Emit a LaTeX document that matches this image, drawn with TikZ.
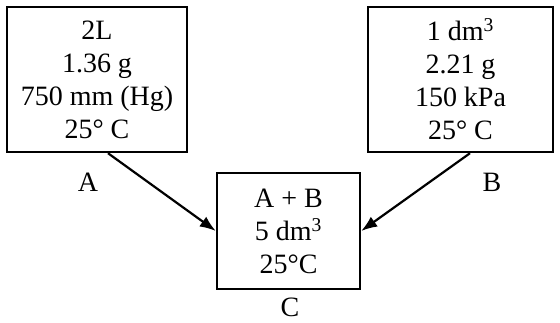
\documentclass[tikz,border=0pt]{standalone}
\usepackage{fontspec}
\setmainfont{Liberation Serif}
\usetikzlibrary{arrows.meta,positioning}

\begin{document}
\begin{tikzpicture}[
 x=1pt,y=-1pt,
 gasbox/.style={draw,line width=2.4pt,align=center,inner sep=0pt,font=\fontsize{28}{33}\selectfont},
 tag/.style={font=\fontsize{28}{30}\selectfont},
 arrow/.style={-{Latex[length=16pt,width=12pt]},line width=2.2pt}
]
\useasboundingbox (0,0) rectangle (560,322);
\node[gasbox,minimum width=180pt,minimum height=145pt] (boxA) at (97,79.5) {2L\\1.36 g\\750 mm (Hg)\\25° C};
\node[gasbox,minimum width=185pt,minimum height=145pt] (boxB) at (460.5,79.5) {1 dm\textsuperscript{3}\\2.21 g\\150 kPa\\25° C};
\node[gasbox,minimum width=143pt,minimum height=116pt] (boxC) at (288.5,231) {A + B\\5 dm\textsuperscript{3}\\25°C};
\node[tag] (labA) at (88,182) {A};
\node[tag] (labB) at (492,182) {B};
\node[tag] (labC) at (290,307) {C};
\draw[arrow] ([xshift=11pt]boxA.south) -- (boxC.west);
\draw[arrow] ([xshift=9.5pt]boxB.south) -- (boxC.east);
\end{tikzpicture}
\end{document}
